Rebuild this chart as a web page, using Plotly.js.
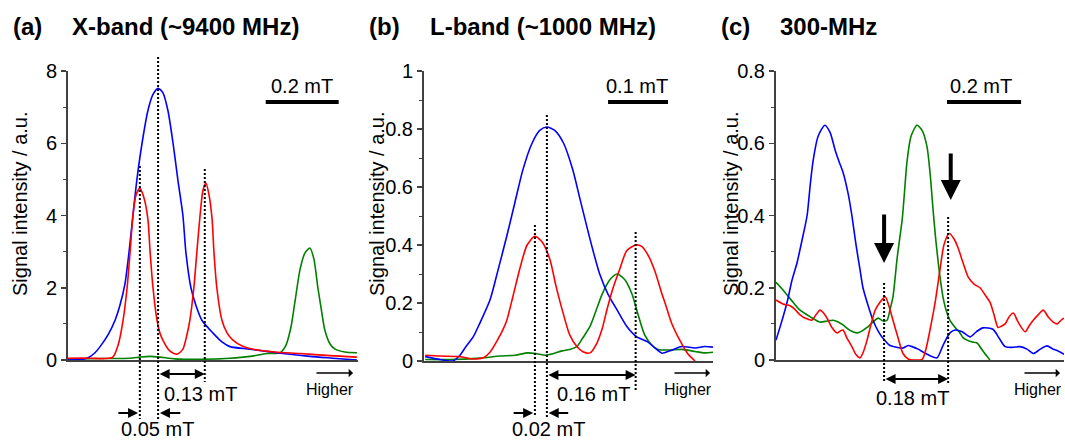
<!DOCTYPE html>
<html><head><meta charset="utf-8">
<script src="https://cdn.plot.ly/plotly-3.0.1.min.js"></script>
<style>html,body{margin:0;padding:0;background:#fff}#chart{width:1065px;height:441px}</style>
</head><body><div id="chart"></div>
<script>
// ---------- data (x: magnetic field offset in mT, y: signal intensity / a.u.) ----------
// (a) X-band
const blueAx = [0,0.033,0.055,0.074,0.088,0.110,0.129,0.142,0.156,0.167,0.178,0.189,0.203,0.219,0.233,0.247,0.260,0.274,0.288,0.301,0.315,0.323,0.337,0.351,0.367,0.397,0.422,0.444,0.499,0.589,0.663,0.726,0.792];
const blueAy = [0,0.01,0.06,0.2,0.37,0.7,1.1,1.5,2.1,2.96,4.0,5.0,6.0,6.9,7.35,7.52,7.4,6.9,6.0,5.0,4.0,3.0,2.0,1.5,1.1,0.75,0.5,0.37,0.3,0.18,0.1,0.05,0];
const redAx = [0,0.060,0.101,0.123,0.137,0.151,0.162,0.170,0.178,0.186,0.197,0.208,0.219,0.225,0.233,0.244,0.252,0.260,0.279,0.299,0.315,0.326,0.334,0.345,0.353,0.362,0.370,0.378,0.386,0.395,0.400,0.408,0.422,0.436,0.452,0.479,0.507,0.567,0.636,0.718,0.792];
const redAy = [0.05,0.05,0.04,0.08,0.4,1.1,2.0,2.96,4.0,4.55,4.75,4.5,3.9,3.0,2.0,1.1,0.75,0.55,0.25,0.16,0.3,0.7,1.1,2.0,2.96,4.0,4.7,4.9,4.6,3.9,3.0,2.0,1.1,0.75,0.55,0.38,0.3,0.22,0.18,0.12,0.08];
const greenAx = [0,0.088,0.170,0.197,0.225,0.252,0.293,0.362,0.444,0.499,0.545,0.581,0.597,0.611,0.622,0.636,0.649,0.663,0.674,0.685,0.696,0.704,0.718,0.732,0.759,0.792];
const greenAy = [0.02,0.04,0.05,0.08,0.1,0.08,0.03,0.02,0.05,0.1,0.18,0.2,0.4,0.9,1.6,2.5,2.95,3.1,2.8,2.0,1.3,0.83,0.45,0.3,0.22,0.2];
// (b) L-band
const blueBx = [0.002,0.027,0.048,0.060,0.070,0.082,0.093,0.110,0.123,0.138,0.152,0.165,0.180,0.193,0.205,0.218,0.233,0.248,0.260,0.272,0.282,0.293,0.307,0.322,0.338,0.355,0.373,0.385,0.397,0.410,0.430,0.452,0.468,0.482];
const blueBy = [0.015,0.005,0,0.02,0.05,0.083,0.13,0.21,0.31,0.43,0.55,0.66,0.75,0.795,0.807,0.795,0.75,0.66,0.56,0.46,0.38,0.30,0.23,0.176,0.12,0.083,0.066,0.045,0.027,0.035,0.05,0.045,0.05,0.048];
const redBx = [0.002,0.027,0.060,0.077,0.088,0.100,0.110,0.122,0.132,0.138,0.148,0.160,0.172,0.185,0.197,0.210,0.220,0.232,0.243,0.255,0.265,0.277,0.288,0.297,0.305,0.315,0.327,0.338,0.353,0.363,0.375,0.385,0.397,0.402,0.413,0.427,0.440,0.452];
const redBy = [0.02,0.017,0.015,0.008,0.007,0.012,0.03,0.07,0.11,0.14,0.22,0.32,0.40,0.43,0.41,0.35,0.26,0.165,0.09,0.05,0.032,0.028,0.06,0.11,0.176,0.25,0.32,0.38,0.40,0.395,0.36,0.31,0.23,0.2,0.13,0.07,0.025,0];
const greenBx = [0.002,0.043,0.093,0.127,0.152,0.173,0.188,0.202,0.215,0.230,0.243,0.255,0.265,0.277,0.288,0.297,0.310,0.322,0.335,0.347,0.357,0.368,0.380,0.390,0.410,0.430,0.452,0.468,0.482];
const greenBy = [0.005,0.005,0.01,0.017,0.02,0.028,0.025,0.02,0.025,0.035,0.04,0.05,0.08,0.12,0.18,0.23,0.28,0.30,0.28,0.23,0.16,0.09,0.055,0.04,0.038,0.04,0.033,0.028,0.03];
// (c) 300 MHz
const blueCx = [0,0.0135,0.030,0.043,0.057,0.070,0.084,0.092,0.100,0.114,0.132,0.146,0.160,0.170,0.181,0.195,0.205,0.216,0.227,0.235,0.249,0.262,0.276,0.289,0.308,0.327,0.343,0.357,0.368,0.384,0.397,0.416,0.435,0.451,0.470,0.484,0.503,0.524,0.541,0.559,0.586,0.603,0.619,0.638,0.659,0.678,0.695,0.714,0.732,0.749,0.762,0.778];
const blueCy = [0.055,0.1,0.16,0.22,0.27,0.33,0.40,0.48,0.55,0.62,0.65,0.63,0.58,0.55,0.52,0.46,0.40,0.32,0.25,0.2,0.15,0.11,0.08,0.06,0.04,0.035,0.033,0.04,0.037,0.03,0.022,0.012,0.006,0.04,0.075,0.083,0.078,0.064,0.078,0.089,0.085,0.06,0.037,0.035,0.037,0.03,0.018,0.03,0.039,0.03,0.025,0.016];
const redCx = [0,0.019,0.038,0.051,0.065,0.081,0.097,0.108,0.119,0.130,0.141,0.151,0.165,0.173,0.181,0.192,0.205,0.216,0.227,0.235,0.246,0.257,0.268,0.281,0.295,0.305,0.316,0.330,0.343,0.357,0.376,0.395,0.405,0.416,0.430,0.443,0.454,0.468,0.481,0.492,0.505,0.519,0.535,0.551,0.565,0.578,0.589,0.600,0.611,0.619,0.630,0.641,0.654,0.673,0.684,0.695,0.708,0.722,0.735,0.749,0.760,0.770,0.778];
const redCy = [0.166,0.155,0.15,0.14,0.125,0.115,0.11,0.125,0.138,0.128,0.11,0.09,0.075,0.08,0.083,0.06,0.037,0.015,0.006,0.02,0.055,0.1,0.138,0.16,0.175,0.15,0.11,0.06,0.018,0.003,0,0.002,0.03,0.083,0.16,0.25,0.32,0.35,0.335,0.31,0.27,0.23,0.21,0.2,0.18,0.16,0.125,0.09,0.095,0.1,0.12,0.13,0.105,0.078,0.095,0.11,0.125,0.138,0.12,0.105,0.1,0.11,0.116];
const greenCx = [0,0.0135,0.030,0.046,0.065,0.092,0.119,0.138,0.154,0.168,0.181,0.200,0.219,0.232,0.246,0.262,0.276,0.289,0.300,0.308,0.316,0.327,0.341,0.346,0.354,0.365,0.381,0.395,0.408,0.416,0.424,0.430,0.435,0.443,0.451,0.459,0.470,0.484,0.497,0.505,0.516,0.530,0.543,0.559,0.578];
const greenCy = [0.215,0.2,0.18,0.16,0.138,0.12,0.105,0.108,0.11,0.105,0.097,0.082,0.075,0.08,0.09,0.105,0.116,0.108,0.11,0.14,0.175,0.28,0.39,0.45,0.55,0.62,0.65,0.635,0.59,0.52,0.42,0.35,0.3,0.23,0.175,0.14,0.11,0.09,0.075,0.062,0.055,0.05,0.047,0.025,0];

// peak positions (mT) marked with dotted lines
const peaksA = [0.197, 0.247, 0.375];
const peaksB = [0.185, 0.205, 0.353];
const peaksC = [0.292, 0.465];
// scale bar lengths (mT) and labels
const scaleLens = [0.2, 0.1, 0.2];
const scaleLabels = ['0.2 mT', '0.1 mT', '0.2 mT'];
const panelTags = ['(a)', '(b)', '(c)'];
const panelTitles = ['X-band (~9400 MHz)', 'L-band (~1000 MHz)', '300-MHz'];
const splitLabelsA = ['0.05 mT', '0.13 mT'];
const splitLabelsB = ['0.02 mT', '0.16 mT'];
const splitLabelsC = ['0.18 mT'];
const yTitle = 'Signal intensity / a.u.';

// ---------- helpers ----------
const W = 1065, H = 441;
const px = v => v / W, py = v => 1 - v / H;
const BLUE = '#0000ff', RED = '#ff0000', GREEN = '#008000', AX = '#404040';
const FONT = 'Liberation Sans, Arial, sans-serif';

function tr(x, y, color, n) {
  return {x, y, type: 'scatter', mode: 'lines', hoverinfo: 'skip',
    line: {color, width: 1.6, shape: 'spline', smoothing: 0.7},
    xaxis: 'x' + n, yaxis: 'y' + n};
}
const traces = [
  tr(greenAx, greenAy, GREEN, ''), tr(blueAx, blueAy, BLUE, ''), tr(redAx, redAy, RED, ''),
  tr(greenBx, greenBy, GREEN, '2'), tr(blueBx, blueBy, BLUE, '2'), tr(redBx, redBy, RED, '2'),
  tr(greenCx, greenCy, GREEN, '3'), tr(blueCx, blueCy, BLUE, '3'), tr(redCx, redCy, RED, '3')
];

function xax(d, r, anchor) {
  return {domain: d, range: r, anchor, showline: true, linecolor: AX, linewidth: 2,
    ticks: '', showticklabels: false, showgrid: false, zeroline: false, fixedrange: true};
}
function yax(d, r, dt, mdt, anchor) {
  return {domain: d, range: r, anchor, dtick: dt, tick0: 0, ticks: 'outside', ticklen: 5,
    tickwidth: 1.5, tickcolor: AX, showline: true, linecolor: AX, linewidth: 2,
    showgrid: false, zeroline: false, fixedrange: true,
    tickfont: {size: 20, color: '#000', family: FONT},
    minor: {ticks: 'outside', ticklen: 3, tickwidth: 1, tickcolor: AX, dtick: mdt, showgrid: false}};
}

const shapes = [];
const annotations = [];
function vdot(xr, x, top, bot) {
  shapes.push({type: 'line', xref: xr, yref: 'paper', x0: x, x1: x, y0: py(top), y1: py(bot),
    line: {color: '#000', width: 2, dash: '2px,2px'}});
}
function scaleBar(xr, x0, len, ypx) {
  shapes.push({type: 'line', xref: xr, yref: 'paper', x0: x0, x1: x0 + len, y0: py(ypx), y1: py(ypx),
    line: {color: '#000', width: 4}});
}
function text(t, xp, yp, size, opts) {
  annotations.push(Object.assign({xref: 'paper', yref: 'paper', x: px(xp), y: py(yp), text: t,
    showarrow: false, font: {size, color: '#000', family: FONT}, xanchor: 'center', yanchor: 'middle'}, opts || {}));
}
function hArrow(xr, head, tail, ypx, both) {
  annotations.push({xref: xr, yref: 'paper', x: head, y: py(ypx), axref: xr, ax: tail,
    ayref: 'pixel', ay: 0, text: '', showarrow: true, arrowhead: 2, arrowsize: 1,
    arrowwidth: 2, arrowcolor: '#000', arrowside: both ? 'end+start' : 'end'});
}
function downArrow(xr, x, tipPx, lenPx) {
  annotations.push({xref: xr, yref: 'paper', x: x, y: py(tipPx), axref: 'pixel', ax: 0,
    ayref: 'pixel', ay: -lenPx, text: '', showarrow: true, arrowhead: 2, arrowsize: 1,
    arrowwidth: 4, arrowcolor: '#000'});
}
function higher(x1px, x2px) {
  annotations.push({xref: 'paper', yref: 'paper', x: px(x2px), y: py(373), axref: 'pixel',
    ax: -(x2px - x1px), ayref: 'pixel', ay: 0, text: '', showarrow: true, arrowhead: 1,
    arrowsize: 1.1, arrowwidth: 1.3, arrowcolor: '#000'});
  text('Higher', (x1px + x2px) / 2 - 4, 389, 16);
}

// titles
const tagX = [27, 384, 735], titleX = [70, 428, 778];
for (let i = 0; i < 3; i++) {
  text('<b>' + panelTags[i] + '</b>', tagX[i], 27, 24);
  text('<b>' + panelTitles[i] + '</b>', titleX[i], 27, 24, {xanchor: 'left'});
}
// y titles
[20, 377, 731].forEach(x => text(yTitle, x, 204, 20, {textangle: -90}));

// panel a
vdot('x', peaksA[0], 166, 419); vdot('x', peaksA[1], 57, 420); vdot('x', peaksA[2], 169, 382);
scaleBar('x', 0.542, scaleLens[0], 102); text(scaleLabels[0], 302, 86, 20);
hArrow('x', peaksA[2], peaksA[1], 374, true);
hArrow('x', peaksA[0] - 0.005, peaksA[0] - 0.063, 413, false);
hArrow('x', peaksA[1] + 0.005, peaksA[1] + 0.065, 413, false);
text(splitLabelsA[1], 200, 394, 20); text(splitLabelsA[0], 157, 429, 20);
higher(315, 353);

// panel b
vdot('x2', peaksB[0], 225, 417); vdot('x2', peaksB[1], 115, 418); vdot('x2', peaksB[2], 232, 392);
scaleBar('x2', 0.307, scaleLens[1], 102); text(scaleLabels[1], 637, 86, 20);
hArrow('x2', peaksB[2], peaksB[1], 375, true);
hArrow('x2', peaksB[0] - 0.003, peaksB[0] - 0.038, 413, false);
hArrow('x2', peaksB[1] + 0.003, peaksB[1] + 0.038, 413, false);
text(splitLabelsB[1], 593, 394, 20); text(splitLabelsB[0], 548, 429, 20);
higher(673, 710);

// panel c
vdot('x3', peaksC[0], 283, 383); vdot('x3', peaksC[1], 217, 383);
scaleBar('x3', 0.462, scaleLens[2], 102); text(scaleLabels[2], 981, 86, 20);
hArrow('x3', peaksC[1], peaksC[0], 379, true);
text(splitLabelsC[0], 912, 398, 20);
downArrow('x3', peaksC[0], 263, 50);
downArrow('x3', peaksC[1] + 0.007, 200, 48);
higher(1023, 1060);

const layout = {
  width: W, height: H, margin: {l: 0, r: 0, t: 0, b: 0},
  paper_bgcolor: '#fff', plot_bgcolor: '#fff', showlegend: false,
  font: {family: FONT, color: '#000'},
  xaxis: xax([px(68), px(358)], [0, 0.795], 'y'),
  yaxis: yax([py(360), py(71)], [0, 8], 2, 1, 'x'),
  xaxis2: xax([px(424), px(713)], [0, 0.482], 'y2'),
  yaxis2: yax([py(361), py(71)], [0, 1], 0.2, 0.1, 'x2'),
  xaxis3: xax([px(776), px(1064)], [0, 0.778], 'y3'),
  yaxis3: yax([py(360), py(71)], [0, 0.8], 0.2, 0.1, 'x3'),
  shapes, annotations
};
Plotly.newPlot('chart', traces, layout, {staticPlot: true, displayModeBar: false});
</script></body></html>
